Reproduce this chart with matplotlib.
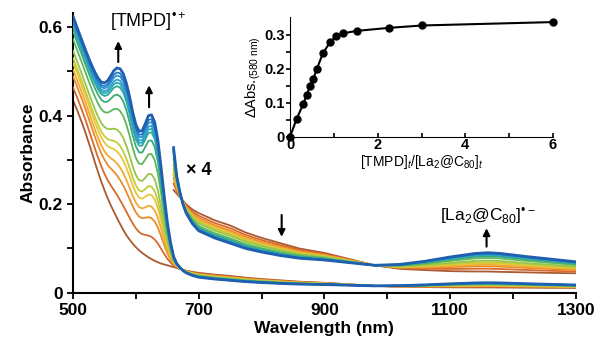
import numpy as np
import matplotlib
matplotlib.use('Agg')
import matplotlib.pyplot as plt

plt.rcParams['font.family'] = ['Liberation Sans', 'DejaVu Sans']
plt.rcParams['mathtext.fontset'] = 'custom'
plt.rcParams['mathtext.rm'] = 'Liberation Sans'
plt.rcParams['mathtext.it'] = 'Liberation Sans:italic'

# spectra: start (no TMPD) and end (excess TMPD)
wavelength = [500, 505, 510, 515, 520, 525, 530, 535, 540, 545, 550, 555, 560, 565,
              570, 575, 580, 585, 590, 595, 600, 605, 610, 615, 620, 625, 630, 635,
              640, 645, 650, 655, 660, 665, 670, 675, 680, 690, 700, 725, 750, 775,
              800, 830, 860, 900, 940, 980, 1020, 1060, 1100, 1140, 1160, 1180, 1220,
              1260, 1300]
abs_start = [0.435, 0.418, 0.400, 0.381, 0.361, 0.339, 0.317, 0.294, 0.272, 0.251,
             0.232, 0.214, 0.198, 0.183, 0.169, 0.155, 0.142, 0.130, 0.120, 0.111,
             0.103, 0.096, 0.090, 0.085, 0.080, 0.076, 0.072, 0.069, 0.066, 0.064,
             0.062, 0.060, 0.058, 0.056, 0.054, 0.052, 0.050, 0.047, 0.045, 0.041,
             0.038, 0.034, 0.031, 0.028, 0.025, 0.0225, 0.019, 0.0155, 0.0135, 0.0128,
             0.0122, 0.0120, 0.0120, 0.0118, 0.0115, 0.0112, 0.0110]
abs_end = [0.625, 0.605, 0.586, 0.567, 0.548, 0.530, 0.513, 0.498, 0.485, 0.476,
           0.474, 0.479, 0.490, 0.502, 0.508, 0.506, 0.495, 0.473, 0.443, 0.408,
           0.380, 0.365, 0.366, 0.382, 0.400, 0.402, 0.385, 0.345, 0.285, 0.220,
           0.160, 0.115, 0.082, 0.066, 0.057, 0.050, 0.045, 0.039, 0.035, 0.031,
           0.028, 0.025, 0.023, 0.021, 0.0195, 0.0185, 0.017, 0.0155, 0.016, 0.0178,
           0.0202, 0.0222, 0.0226, 0.0222, 0.0205, 0.019, 0.0175]

# inset: titration curve
ratio = [0, 0.15, 0.30, 0.38, 0.46, 0.53, 0.61, 0.75, 0.91, 1.06, 1.22, 1.52, 2.26, 3.02, 6.0]
delta_abs = [0, 0.052, 0.096, 0.123, 0.150, 0.170, 0.199, 0.246, 0.278, 0.297,
             0.305, 0.312, 0.321, 0.328, 0.338]

colors = ['#a85a30', '#d8692a', '#ec8a2a', '#f2a833', '#e8c53a', '#c5cc3a', '#98c448',
          '#5cb85a', '#3aaa78', '#2fa89a', '#2aaab8', '#2ea0cc', '#2b8fd0', '#2278c4',
          '#1f5fae']


def main():
    wl = np.array(wavelength)
    a0 = np.array(abs_start)
    a1 = np.array(abs_end)
    frac = np.array(delta_abs) / delta_abs[-1]
    hi = wl >= 660

    fig = plt.figure(figsize=(5.96, 3.44), dpi=100)
    ax = fig.add_axes([0.1225, 0.149, 0.8436, 0.813])

    for i, f in enumerate(frac):
        spec = (1 - f) * a0 + f * a1
        lw = 2.0 if i == len(frac) - 1 else 1.3
        ax.plot(wl, spec, color=colors[i], lw=lw, zorder=2 + i)
        ax.plot(wl[hi], 4 * spec[hi], color=colors[i], lw=lw, zorder=2 + i)

    ax.set_xlim(500, 1300)
    ax.set_ylim(0, 0.632)
    ax.set_xticks([500, 700, 900, 1100, 1300])
    ax.set_xticks([600, 800, 1000, 1200], minor=True)
    ax.set_yticks([0, 0.2, 0.4, 0.6])
    ax.set_yticklabels(['0', '0.2', '0.4', '0.6'])
    ax.set_yticks([0.1, 0.3, 0.5], minor=True)
    ax.tick_params(which='both', direction='out', width=1.3, length=4, labelsize=12.5)
    for lab in ax.get_xticklabels() + ax.get_yticklabels():
        lab.set_fontweight('bold')
    for s in ['top', 'right']:
        ax.spines[s].set_visible(False)
    for s in ['left', 'bottom']:
        ax.spines[s].set_linewidth(1.5)
    ax.set_xlabel('Wavelength (nm)', fontsize=12.5, fontweight='bold', labelpad=2)
    ax.set_ylabel('Absorbance', fontsize=12.5, fontweight='bold', labelpad=2)

    arr = dict(arrowstyle='-|>', color='black', lw=1.5, mutation_scale=10)
    ax.text(619, 0.612, '[TMPD]$^{•+}$', fontsize=13, ha='center', va='center')
    ax.annotate('', xy=(572, 0.575), xytext=(572, 0.515), arrowprops=arr)
    ax.annotate('', xy=(621, 0.475), xytext=(621, 0.413), arrowprops=arr)
    ax.text(700, 0.277, '× 4', fontsize=13, fontweight='bold', ha='center', va='center')
    ax.annotate('', xy=(832, 0.12), xytext=(832, 0.182), arrowprops=arr)
    ax.text(1160, 0.172, '[La$_2$@C$_{80}$]$^{•−}$', fontsize=12.5,
            ha='center', va='center')
    ax.annotate('', xy=(1158, 0.152), xytext=(1158, 0.098), arrowprops=arr)

    # inset
    ins = fig.add_axes([0.4866, 0.6026, 0.4413, 0.348])
    ins.plot(ratio, delta_abs, '-o', color='black', lw=1.5, ms=5, clip_on=False, zorder=5)
    ins.set_xlim(0, 6)
    ins.set_ylim(0, 0.353)
    ins.set_xticks([0, 2, 4, 6])
    ins.set_xticks([1, 3, 5], minor=True)
    ins.set_yticks([0, 0.1, 0.2, 0.3])
    ins.set_yticklabels(['0', '0.1', '0.2', '0.3'])
    ins.set_yticks([0.05, 0.15, 0.25], minor=True)
    ins.tick_params(axis='x', which='both', direction='in', length=3, width=1.2,
                    labelsize=10.5, pad=1)
    ins.tick_params(axis='y', which='both', direction='out', length=3, width=1.2,
                    labelsize=10.5, pad=1)
    for lab in ins.get_xticklabels() + ins.get_yticklabels():
        lab.set_fontweight('bold')
    for s in ['top', 'right']:
        ins.spines[s].set_visible(False)
    ins.patch.set_alpha(0)
    ins.set_xlabel(r'[TMPD]$_t$/[La$_2$@C$_{80}$]$_t$', fontsize=10, labelpad=1)
    ins.set_ylabel(r'$\Delta$Abs.$_{(580\ \mathrm{nm})}$', fontsize=10.5, labelpad=1)

    fig.savefig('out.png', dpi=100)


if __name__ == '__main__':
    main()
